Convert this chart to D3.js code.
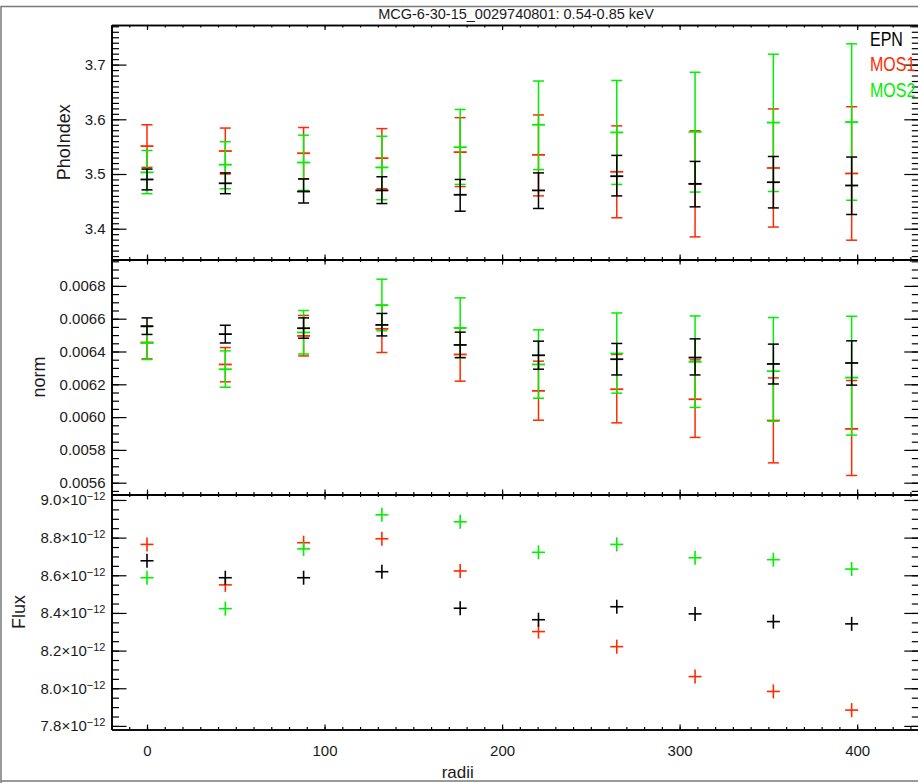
<!DOCTYPE html>
<html><head><meta charset="utf-8">
<script src="https://cdn.jsdelivr.net/npm/d3@7"></script>
<style>
body{margin:0;background:#fff}
svg{display:block}
text{font-family:"Liberation Sans",Arial,sans-serif}
</style>
</head><body>
<svg id="chart" width="918" height="783"></svg>
<script>
// ---------------- DATA ----------------
const title = "MCG-6-30-15_0029740801: 0.54-0.85 keV";
const seriesNames = ["EPN", "MOS1", "MOS2"];
const radii = [0, 44.1, 88.2, 132.3, 176.4, 220.5, 264.6, 308.7, 352.8, 396.9];

// PhoIndex
const phoEPN    = [3.490, 3.483, 3.468, 3.470, 3.462, 3.470, 3.496, 3.482, 3.485, 3.479];
const phoEPNlo  = [3.471, 3.464, 3.447, 3.446, 3.432, 3.437, 3.460, 3.440, 3.438, 3.426];
const phoEPNhi  = [3.509, 3.502, 3.491, 3.495, 3.490, 3.502, 3.534, 3.523, 3.532, 3.531];
const phoMOS1   = [3.551, 3.542, 3.538, 3.529, 3.540, 3.535, 3.504, 3.482, 3.511, 3.501];
const phoMOS1lo = [3.512, 3.500, 3.491, 3.473, 3.477, 3.460, 3.420, 3.385, 3.403, 3.379];
const phoMOS1hi = [3.590, 3.584, 3.585, 3.583, 3.603, 3.608, 3.588, 3.579, 3.619, 3.623];
const phoMOS2   = [3.503, 3.517, 3.521, 3.512, 3.549, 3.590, 3.576, 3.577, 3.594, 3.595];
const phoMOS2lo = [3.464, 3.473, 3.470, 3.453, 3.481, 3.508, 3.481, 3.467, 3.468, 3.452];
const phoMOS2hi = [3.543, 3.559, 3.571, 3.569, 3.618, 3.670, 3.671, 3.686, 3.719, 3.738];

// norm
const normEPN    = [0.006554, 0.006506, 0.006542, 0.006562, 0.006440, 0.006377, 0.006353, 0.006363, 0.006324, 0.006330];
const normEPNlo  = [0.006504, 0.006452, 0.006481, 0.006495, 0.006363, 0.006292, 0.006257, 0.006257, 0.006202, 0.006195];
const normEPNhi  = [0.006605, 0.006560, 0.006605, 0.006632, 0.006518, 0.006463, 0.006449, 0.006477, 0.006445, 0.006465];
const normMOS1   = [0.006455, 0.006321, 0.006495, 0.006538, 0.006382, 0.006160, 0.006170, 0.006109, 0.005979, 0.005928];
const normMOS1lo = [0.006355, 0.006215, 0.006373, 0.006394, 0.006219, 0.005981, 0.005965, 0.005876, 0.005721, 0.005644];
const normMOS1hi = [0.006555, 0.006424, 0.006620, 0.006682, 0.006544, 0.006341, 0.006382, 0.006349, 0.006239, 0.006223];
const normMOS2   = [0.006452, 0.006292, 0.006516, 0.006682, 0.006544, 0.006321, 0.006388, 0.006337, 0.006280, 0.006241];
const normMOS2lo = [0.006351, 0.006182, 0.006385, 0.006526, 0.006362, 0.006115, 0.006146, 0.006059, 0.005975, 0.005890];
const normMOS2hi = [0.006552, 0.006404, 0.006650, 0.006841, 0.006727, 0.006532, 0.006635, 0.006617, 0.006607, 0.006615];

// Flux
const fluxEPN  = [8.677e-12, 8.587e-12, 8.587e-12, 8.619e-12, 8.425e-12, 8.364e-12, 8.433e-12, 8.395e-12, 8.354e-12, 8.342e-12];
const fluxMOS1 = [8.764e-12, 8.549e-12, 8.773e-12, 8.794e-12, 8.623e-12, 8.301e-12, 8.221e-12, 8.062e-12, 7.983e-12, 7.884e-12];
const fluxMOS2 = [8.587e-12, 8.423e-12, 8.740e-12, 8.921e-12, 8.884e-12, 8.722e-12, 8.764e-12, 8.693e-12, 8.683e-12, 8.633e-12];

// axes / ticks
const xDomain = [-20, 435];
const xMajorTicks = [0, 100, 200, 300, 400];
const phoDomain = [3.3437, 3.7724];
const phoTicks = [3.4, 3.5, 3.6, 3.7];
const normDomain = [0.005528, 0.006961];
const normTicks = [0.0056, 0.0058, 0.0060, 0.0062, 0.0064, 0.0066, 0.0068];
const fluxDomain = [7.781e-12, 9.029e-12];
const fluxTicks = [7.8e-12, 8.0e-12, 8.2e-12, 8.4e-12, 8.6e-12, 8.8e-12, 9.0e-12];

// ---------------- DRAW ----------------
const colors = {EPN: "#000000", MOS1: "#ff2a00", MOS2: "#00f000"};
const textColor = "#1a1a1a";
const svg = d3.select("#chart");
svg.append("rect").attr("width", 918).attr("height", 783).attr("fill", "#fff");

// window frame
svg.append("path").attr("d", "M1,783 V6.5 H918 M1,781 H918")
  .attr("fill", "none").attr("stroke", "#7a7a7a").attr("stroke-width", 1.5);

const L = 111.5, R = 919.3;
const x = d3.scaleLinear().domain(xDomain).range([L, R]);
const xMinor = d3.range(-20, 436, 10);

const panels = [
  {top: 25, bot: 259.5, domain: phoDomain, ticks: phoTicks, minorStep: 0.01, fmt: d3.format(".1f"), title: "PhoIndex", tx: 64},
  {top: 259.5, bot: 494.5, domain: normDomain, ticks: normTicks, minorStep: 0.00005, fmt: d3.format(".4f"), title: "norm", tx: 39},
  {top: 494.5, bot: 729.5, domain: fluxDomain, ticks: fluxTicks, minorStep: 0.05e-12, fmt: null, title: "Flux", tx: 19}
];

panels.forEach((p) => {
  p.y = d3.scaleLinear().domain(p.domain).range([p.bot, p.top]);
  const n0 = Math.ceil(p.domain[0] / p.minorStep - 1e-6), n1 = Math.floor(p.domain[1] / p.minorStep + 1e-6);
  p.minor = d3.range(n0, n1 + 1).map(k => k * p.minorStep);
});

function styleAxis(g) {
  g.selectAll("path.domain").attr("stroke", "#000").attr("stroke-width", 1.6);
  g.selectAll(".tick line").attr("stroke", "#000").attr("stroke-width", 1.2);
  g.selectAll(".tick text").attr("font-size", 15).style("fill", textColor)
    .attr("font-family", '"Liberation Sans", Arial, sans-serif');
}

panels.forEach((p, i) => {
  const g = svg.append("g");
  g.append("g").attr("transform", `translate(${L},0)`)
    .call(d3.axisLeft(p.y).tickValues(p.minor).tickSizeInner(-7.5).tickSizeOuter(0).tickFormat(""))
    .call(styleAxis);
  g.append("g").attr("transform", `translate(${R},0)`)
    .call(d3.axisRight(p.y).tickValues(p.minor).tickSizeInner(-7.5).tickSizeOuter(0).tickFormat(""))
    .call(styleAxis);
  const left = g.append("g").attr("transform", `translate(${L},0)`)
    .call(d3.axisLeft(p.y).tickValues(p.ticks).tickSizeInner(-15).tickSizeOuter(0).tickPadding(6)
      .tickFormat(p.fmt ? p.fmt : () => ""))
    .call(styleAxis);
  if (!p.fmt) {
    left.selectAll(".tick text").each(function(d) {
      const t = d3.select(this);
      t.text(null);
      t.append("tspan").text((d / 1e-12).toFixed(1) + "×10");
      t.append("tspan").attr("dy", "-0.45em").attr("font-size", 11).text("−12");
    });
  }
  g.append("g").attr("transform", `translate(${R},0)`)
    .call(d3.axisRight(p.y).tickValues(p.ticks).tickSizeInner(-15).tickSizeOuter(0).tickFormat(""))
    .call(styleAxis);
  g.append("g").attr("transform", `translate(0,${p.top})`)
    .call(d3.axisTop(x).tickValues(xMinor).tickSizeInner(-2.5).tickSizeOuter(0).tickFormat(""))
    .call(styleAxis);
  g.append("g").attr("transform", `translate(0,${p.top})`)
    .call(d3.axisTop(x).tickValues(xMajorTicks).tickSizeInner(-5).tickSizeOuter(0).tickFormat(""))
    .call(styleAxis);
  g.append("g").attr("transform", `translate(0,${p.bot})`)
    .call(d3.axisBottom(x).tickValues(xMinor).tickSizeInner(-2.5).tickSizeOuter(0).tickFormat(""))
    .call(styleAxis);
  g.append("g").attr("transform", `translate(0,${p.bot})`)
    .call(d3.axisBottom(x).tickValues(xMajorTicks).tickSizeInner(-5).tickSizeOuter(0).tickPadding(16)
      .tickFormat(i === 2 ? d3.format("d") : () => ""))
    .call(styleAxis);
  svg.append("text")
    .attr("transform", `translate(${p.tx},${(p.top + p.bot) / 2}) rotate(-90)`)
    .attr("text-anchor", "middle").attr("dy", "0.35em").attr("font-size", 18)
    .style("fill", textColor)
    .text(p.title);
});

svg.append("text").attr("x", x(175)).attr("y", 778).attr("text-anchor", "middle")
  .attr("font-size", 17).style("fill", textColor).text("radii");

svg.append("text").attr("x", 516).attr("y", 18.5).attr("text-anchor", "middle")
  .attr("font-size", 14.5).style("fill", textColor).text(title);

// ---------------- MARKS ----------------
const capW = 5.5, cenW = 6.5;
function errSeries(p, vals, lo, hi, color) {
  const g = svg.append("g").attr("stroke", color).attr("stroke-width", 1.5).attr("fill", "none");
  radii.forEach((r, k) => {
    const cx = x(r);
    g.append("line").attr("x1", cx).attr("x2", cx).attr("y1", p.y(lo[k])).attr("y2", p.y(hi[k]));
    g.append("line").attr("x1", cx - capW).attr("x2", cx + capW).attr("y1", p.y(lo[k])).attr("y2", p.y(lo[k]));
    g.append("line").attr("x1", cx - capW).attr("x2", cx + capW).attr("y1", p.y(hi[k])).attr("y2", p.y(hi[k]));
    g.append("line").attr("x1", cx - cenW).attr("x2", cx + cenW).attr("y1", p.y(vals[k])).attr("y2", p.y(vals[k])).attr("stroke-width", 1.8);
  });
}
function plusSeries(p, vals, color) {
  const g = svg.append("g").attr("stroke", color).attr("stroke-width", 1.6).attr("fill", "none");
  radii.forEach((r, k) => {
    const cx = x(r), cy = p.y(vals[k]);
    g.append("line").attr("x1", cx - 6.5).attr("x2", cx + 6.5).attr("y1", cy).attr("y2", cy);
    g.append("line").attr("x1", cx).attr("x2", cx).attr("y1", cy - 7).attr("y2", cy + 7);
  });
}

errSeries(panels[0], phoMOS1, phoMOS1lo, phoMOS1hi, colors.MOS1);
errSeries(panels[0], phoMOS2, phoMOS2lo, phoMOS2hi, colors.MOS2);
errSeries(panels[0], phoEPN, phoEPNlo, phoEPNhi, colors.EPN);

errSeries(panels[1], normMOS1, normMOS1lo, normMOS1hi, colors.MOS1);
errSeries(panels[1], normMOS2, normMOS2lo, normMOS2hi, colors.MOS2);
errSeries(panels[1], normEPN, normEPNlo, normEPNhi, colors.EPN);

plusSeries(panels[2], fluxMOS1, colors.MOS1);
plusSeries(panels[2], fluxMOS2, colors.MOS2);
plusSeries(panels[2], fluxEPN, colors.EPN);

// legend (condensed lettering, as in the reference)
seriesNames.forEach((s, k) => {
  svg.append("text")
    .attr("transform", `translate(870,${46 + k * 25.3}) scale(0.8,1)`)
    .attr("font-size", 20).style("fill", colors[s]).text(s);
});
</script>
</body></html>
